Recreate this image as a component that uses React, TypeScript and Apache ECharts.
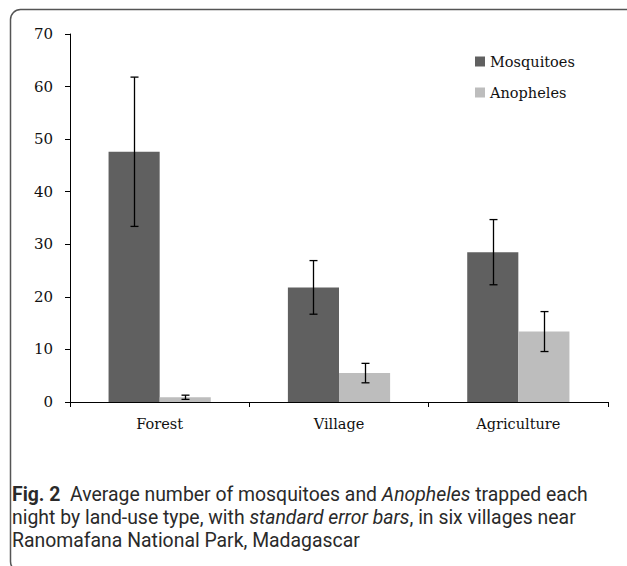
import React, { useEffect, useRef } from "react";
import * as echarts from "echarts";

const categories = ["Forest", "Village", "Agriculture"];
const seriesNames = ["Mosquitoes", "Anopheles"];
const mosquitoMeans = [47.6, 21.8, 28.5];
const mosquitoSE = [14.2, 5.1, 6.2];
const anophelesMeans = [0.9, 5.5, 13.4];
const anophelesSE = [0.4, 1.85, 3.8];
const yTicks = { min: 0, max: 70, interval: 10 };

const DARK = "#606060";
const LIGHT = "#bdbdbd";
const CAT_GAP = 0.43;

function errorSeries(means: number[], se: number[], side: number) {
  return {
    type: "custom",
    silent: true,
    z: 10,
    data: means.map((m, i) => [i, m - se[i], m + se[i]]),
    renderItem: (params: any, api: any) => {
      const idx = api.value(0);
      const lo = api.coord([idx, api.value(1)]);
      const hi = api.coord([idx, api.value(2)]);
      const band = api.size([1, 0])[0];
      const bw = (band * (1 - CAT_GAP)) / 2;
      const x = Math.round(lo[0] + side * bw / 2) + 0.5;
      const cap = 4;
      const st = { stroke: "#000", lineWidth: 1.3 };
      return {
        type: "group",
        children: [
          { type: "line", shape: { x1: x, y1: lo[1], x2: x, y2: hi[1] }, style: st },
          { type: "line", shape: { x1: x - cap, y1: hi[1], x2: x + cap, y2: hi[1] }, style: st },
          { type: "line", shape: { x1: x - cap, y1: lo[1], x2: x + cap, y2: lo[1] }, style: st },
        ],
      };
    },
  };
}

export default function App() {
  const ref = useRef<HTMLDivElement>(null);
  useEffect(() => {
    document.body.style.margin = "0";
    const chart = echarts.init(ref.current!, null, { renderer: "svg" });
    const serif = "DejaVu Serif";
    const capFont = "Roboto";
    const capSize = 19.4;
    const capLH = 22.8;
    chart.setOption({
      animation: false,
      backgroundColor: "#fff",
      textStyle: { fontFamily: serif },
      grid: { left: 70, right: 19, top: 34, bottom: 164 },
      legend: {
        orient: "vertical",
        left: 470,
        top: 49,
        itemWidth: 10,
        itemHeight: 10,
        itemGap: 16,
        icon: "rect",
        textStyle: { fontFamily: serif, fontSize: 14.5, color: "#111" },
        data: seriesNames,
      },
      xAxis: {
        type: "category",
        data: categories,
        boundaryGap: true,
        axisLine: { lineStyle: { color: "#000", width: 1 } },
        axisTick: { show: true, length: 5, lineStyle: { color: "#000" } },
        axisLabel: { fontFamily: serif, fontSize: 14.5, color: "#111", margin: 14 },
      },
      yAxis: {
        type: "value",
        min: yTicks.min,
        max: yTicks.max,
        interval: yTicks.interval,
        splitLine: { show: false },
        axisLine: { show: true, lineStyle: { color: "#000", width: 1 } },
        axisTick: { show: true, length: 5, lineStyle: { color: "#000" } },
        axisLabel: { fontFamily: serif, fontSize: 15, color: "#111", margin: 17 },
      },
      series: [
        {
          name: seriesNames[0],
          type: "bar",
          data: mosquitoMeans,
          barGap: "0%",
          barCategoryGap: CAT_GAP * 100 + "%",
          itemStyle: { color: DARK },
        },
        {
          name: seriesNames[1],
          type: "bar",
          data: anophelesMeans,
          barGap: "0%",
          barCategoryGap: CAT_GAP * 100 + "%",
          itemStyle: { color: LIGHT },
        },
        errorSeries(mosquitoMeans, mosquitoSE, -1),
        errorSeries(anophelesMeans, anophelesSE, 1),
      ],
      graphic: [
        {
          type: "rect",
          silent: true,
          shape: { x: 10.5, y: 9.5, width: 700, height: 562, r: 10 },
          style: { fill: "none", stroke: "#555", lineWidth: 1.5 },
        },
        {
          type: "text",
          left: 12,
          top: 483,
          style: {
            text:
              "{b|Fig. 2}  Average number of mosquitoes and {i|Anopheles} trapped each\nnight by land-use type, with {i|standard error bars}, in six villages near\nRanomafana National Park, Madagascar",
            fontFamily: capFont,
            fontSize: capSize,
            lineHeight: capLH,
            fill: "#2a2a2a",
            rich: {
              b: { fontFamily: capFont, fontSize: capSize, fontWeight: "bold", fill: "#2a2a2a", lineHeight: capLH },
              i: { fontFamily: capFont, fontSize: capSize, fontStyle: "italic", fill: "#2a2a2a", lineHeight: capLH },
            },
          },
        },
      ],
    });
    return () => chart.dispose();
  }, []);
  return <div ref={ref} style={{ width: 627, height: 566 }} />;
}
